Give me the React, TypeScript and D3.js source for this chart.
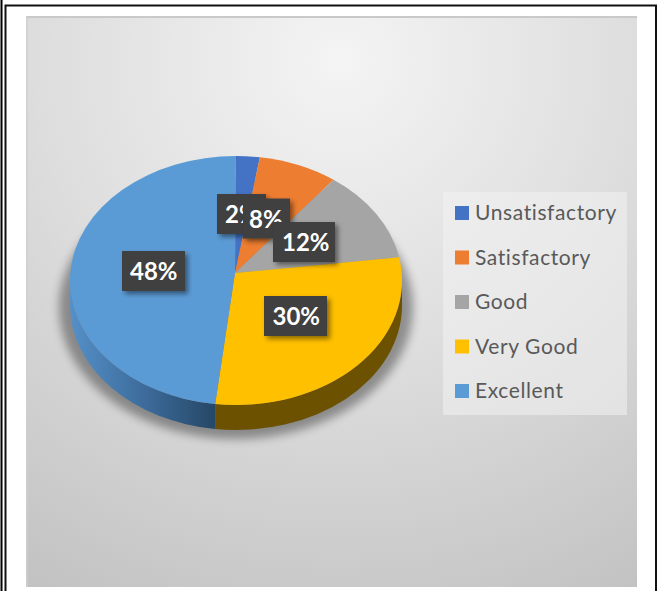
import React from 'react';
import * as d3 from 'd3';

const categories = ['Unsatisfactory', 'Satisfactory', 'Good', 'Very Good', 'Excellent'];
const shares = [2.3, 7.7, 12, 30, 48];
const labels = ['2%', '8%', '12%', '30%', '48%'];
const colours = ['#4472c4', '#ed7d31', '#a5a5a5', '#ffc000', '#5b9bd5'];

// label boxes: left x, centre y, width, text start x
const labelBoxes = [
  [217, 214, 49, 225],
  [243, 218.5, 47, 249],
  [273, 242, 62, 282],
  [264, 316, 63, 272.5],
  [122, 271, 63, 130],
];

const W = 659,
  H = 591;

// pie geometry
const cx = 236,
  cy = 280.5,
  rx = 166,
  ry = 124.5,
  depth = 25,
  apex = { x: 235, y: 273 };

const onRim = (a: number) => ({
  x: cx + rx * Math.sin(a),
  y: cy - ry * Math.cos(a),
});

const slices = d3.pie<number>().sort(null)(shares);

const topPath = (s0: number, s1: number) => {
  const a = onRim(s0);
  const b = onRim(s1);
  const large = s1 - s0 > Math.PI ? 1 : 0;
  return `M${apex.x},${apex.y}L${a.x},${a.y}A${rx},${ry} 0 ${large} 1 ${b.x},${b.y}Z`;
};

const sidePath = (s0: number, s1: number) => {
  const a0 = Math.max(s0, Math.PI / 2);
  const a1 = Math.min(s1, (3 * Math.PI) / 2);
  if (a1 <= a0) return null;
  const a = onRim(a0);
  const b = onRim(a1);
  return (
    `M${a.x},${a.y}A${rx},${ry} 0 0 1 ${b.x},${b.y}` +
    `L${b.x},${b.y + depth}A${rx},${ry} 0 0 0 ${a.x},${a.y + depth}Z`
  );
};

const sideFills = ['#000', '#000', '#000', '#6b5100', 'url(#sideBlue)'];

const legendY = d3
  .scalePoint<string>()
  .domain(categories)
  .range([213, 391]);

export default function App() {
  return (
    <svg
      width={W}
      height={H}
      viewBox={`0 0 ${W} ${H}`}
      style={{ position: 'absolute', left: 0, top: 0, background: '#fff' }}
    >
      <defs>
        <radialGradient
          id="bg"
          gradientUnits="userSpaceOnUse"
          cx={340}
          cy={60}
          r={610}
        >
          <stop offset="0" stopColor="#f4f4f4" />
          <stop offset="0.5" stopColor="#dddddd" />
          <stop offset="1" stopColor="#c2c2c2" />
        </radialGradient>
        <linearGradient id="sideBlue" gradientUnits="userSpaceOnUse" x1={70} x2={216} y1={0} y2={0}>
          <stop offset="0" stopColor="#5590c8" />
          <stop offset="0.5" stopColor="#3d6c9c" />
          <stop offset="1" stopColor="#264766" />
        </linearGradient>
        <filter id="blur" x="-20%" y="-20%" width="140%" height="140%">
          <feGaussianBlur stdDeviation="5" />
        </filter>
        <filter id="boxShadow" x="-30%" y="-30%" width="160%" height="160%">
          <feDropShadow dx="3" dy="3" stdDeviation="2.5" floodColor="#000" floodOpacity="0.45" />
        </filter>
      </defs>

      {/* frame */}
      <line x1={1.5} x2={1.5} y1={0} y2={H} stroke="#000" strokeWidth={2} />
      <path d={`M5.5,${H}V5.5H656V${H}`} fill="none" stroke="#111" strokeWidth={2} />

      {/* chart area */}
      <rect x={26} y={16} width={611} height={571} fill="url(#bg)" />
      <rect x={26} y={16} width={611} height={2} fill="#c9c9c9" />
      <rect x={26} y={16} width={2} height={571} fill="#cfcfcf" opacity={0.7} />

      {/* pie shadow */}
      <ellipse cx={cx} cy={cy + depth + 2} rx={rx + 11} ry={ry + 7} fill="#000" opacity={0.36} filter="url(#blur)" />

      {/* pie sides */}
      {slices.map((s, i) => {
        const d = sidePath(s.startAngle, s.endAngle);
        return d ? <path key={i} d={d} fill={sideFills[i]} /> : null;
      })}

      {/* pie top */}
      {slices.map((s, i) => (
        <path key={i} d={topPath(s.startAngle, s.endAngle)} fill={colours[i]} />
      ))}

      {/* data labels */}
      {labels.map((t, i) => {
        const [x, y, w, tx] = labelBoxes[i];
        return (
          <g key={t}>
            <rect x={x} y={y - 20} width={w} height={40} fill="#404040" filter="url(#boxShadow)" />
            <text
              x={tx}
              y={y + 9}
              fill="#fff"
              fontFamily="Lato, sans-serif"
              fontWeight={700}
              fontSize={24}
            >
              {t}
            </text>
          </g>
        );
      })}

      {/* legend */}
      <rect x={443} y={192} width={184} height={223} fill="#f2f2f2" opacity={0.55} />
      {categories.map((c, i) => (
        <g key={c} transform={`translate(455,${legendY(c)})`}>
          <rect x={0} y={-7} width={14} height={14} fill={colours[i]} />
          <text
            x={20}
            y={7}
            fill="#595959"
            fontFamily="Lato, sans-serif"
            fontSize={21}
            letterSpacing={0.6}
          >
            {c}
          </text>
        </g>
      ))}
    </svg>
  );
}
